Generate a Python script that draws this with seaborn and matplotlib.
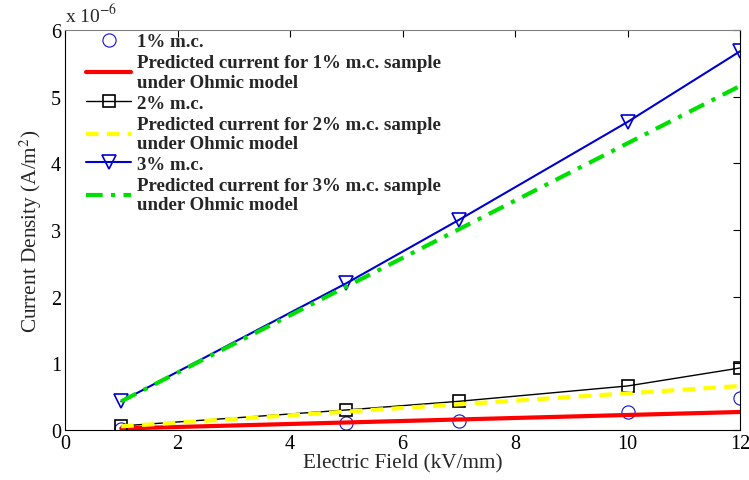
import matplotlib
matplotlib.use("Agg")
import matplotlib.pyplot as plt
import seaborn as sns
import numpy as np

# Electric field (kV/mm) and current density (x 1e-6 A/m^2)
field = [1, 5, 7, 10, 12]
mc1_measured = [0.015, 0.10, 0.14, 0.27, 0.48]
mc1_ohmic = [0.0225, 0.1125, 0.1575, 0.225, 0.27]
mc2_measured = [0.06, 0.30, 0.43, 0.66, 0.93]
mc2_ohmic = [0.055, 0.275, 0.385, 0.55, 0.66]
mc3_measured = [0.43, 2.20, 3.15, 4.62, 5.68]
mc3_ohmic = [0.43, 2.15, 3.01, 4.30, 5.16]

labels = [
    "1% m.c.",
    "Predicted current for 1% m.c. sample\nunder Ohmic model",
    "2% m.c.",
    "Predicted current for 2% m.c. sample\nunder Ohmic model",
    "3% m.c.",
    "Predicted current for 3% m.c. sample\nunder Ohmic model",
]

sns.set_style("white")
plt.rcParams["font.family"] = ["Liberation Serif", "DejaVu Serif"]
plt.rcParams["mathtext.fontset"] = "stix"

fig = plt.figure(figsize=(7.49, 4.81), dpi=100)
ax = fig.add_axes([0.0868, 0.104, 0.9012, 0.8316])

sns.lineplot(x=field, y=mc1_measured, ax=ax, linestyle="", marker="o",
             markersize=9.5, markerfacecolor="none", markeredgecolor="#1010d0",
             markeredgewidth=0.8, label=labels[0])
sns.lineplot(x=field, y=mc1_ohmic, ax=ax, color="#ff0000", linewidth=3,
             label=labels[1])
sns.lineplot(x=field, y=mc2_measured, ax=ax, color="black", linewidth=1,
             marker="s", markersize=8, markerfacecolor="none",
             markeredgecolor="black", markeredgewidth=1.2, label=labels[2])
sns.lineplot(x=field, y=mc2_ohmic, ax=ax, color="#ffff00", linewidth=3,
             linestyle=(0, (3, 2)), label=labels[3])
sns.lineplot(x=field, y=mc3_measured, ax=ax, color="#0000d0", linewidth=1.5,
             marker="v", markersize=10, markerfacecolor="none",
             markeredgecolor="#0000d0", markeredgewidth=1.2, label=labels[4])
sns.lineplot(x=field, y=mc3_ohmic, ax=ax, color="#00e000", linewidth=3,
             linestyle=(0, (4, 2, 1, 2)), label=labels[5])

ax.set_xlim(0, 12)
ax.set_ylim(0, 6)
ax.set_xticks(np.arange(0, 13, 2))
ax.set_yticks(np.arange(0, 7, 1))
ax.tick_params(direction="in", length=5, width=0.8, labelsize=14.5,
               top=True, right=True, colors="black", pad=3)
for s in ax.spines.values():
    s.set_linewidth(0.8)
    s.set_color("black")
ax.spines["top"].set_color("#808080")

ax.set_xlabel("Electric Field (kV/mm)", fontsize=15.3, labelpad=0)
ax.set_ylabel("Current Density (A/m$^2$)", fontsize=15.3, labelpad=5)
ax.text(0.0, 1.012, r"x 10$^{-6}$", transform=ax.transAxes, fontsize=14,
        ha="left", va="bottom")

leg = ax.legend(loc="upper left", frameon=False, fontsize=13.6,
                handlelength=2.4, handletextpad=0.3, labelspacing=0.2,
                borderaxespad=0.0, bbox_to_anchor=(0.02, 1.011))
for t in leg.get_texts():
    t.set_fontweight("bold")
    t.set_linespacing(1.2)

fig.savefig("out.png", dpi=100)
